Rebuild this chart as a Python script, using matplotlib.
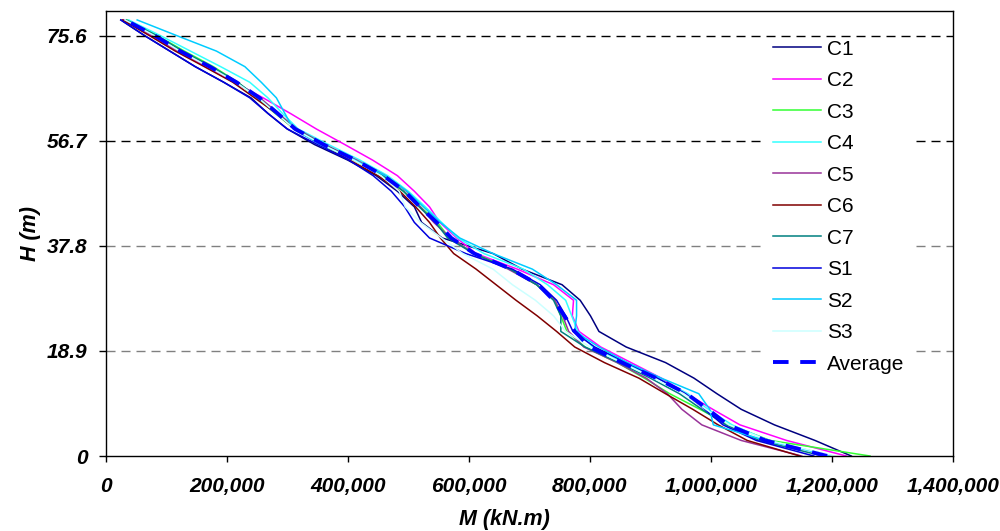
import numpy as np
import matplotlib.pyplot as plt
from matplotlib.ticker import FuncFormatter

plt.rcParams['font.family'] = ['Liberation Sans', 'DejaVu Sans']

# storey levels (m), 28 storeys x 2.8 m
H = [0, 2.8, 5.6, 8.4, 11.2, 14.0, 16.8, 19.6, 22.4, 25.2, 28.0, 30.8, 33.6, 36.4, 39.2,
     42.0, 44.8, 47.6, 50.4, 53.2, 56.0, 58.8, 61.6, 64.4, 67.2, 70.0, 72.8, 75.6, 78.4]

# moments in 1000 kN.m, bottom to top
C1 = [1232, 1172, 1105, 1050, 1010, 972, 925, 860, 815, 801, 784, 754, 688, 640, 556,
      522, 510, 482, 447, 400, 345, 300, 268, 240, 195, 148, 106, 64, 25]
C2 = [1224, 1125, 1048, 1003, 960, 918, 868, 818, 782, 771, 773, 740, 680, 612, 580,
      552, 535, 510, 482, 441, 395, 348, 305, 260, 212, 165, 118, 74, 30]
C3 = [1263, 1098, 1030, 982, 932, 890, 845, 792, 762, 752, 742, 712, 668, 610, 568,
      548, 520, 492, 456, 410, 358, 312, 280, 250, 218, 178, 130, 85, 35]
C4 = [1200, 1095, 1035, 995, 962, 912, 855, 805, 780, 770, 760, 730, 690, 625, 582,
      555, 528, 500, 466, 420, 368, 318, 292, 268, 238, 190, 140, 90, 38]
C5 = [1150, 1050, 985, 952, 928, 893, 845, 790, 765, 755, 742, 712, 665, 608, 570,
      542, 520, 497, 462, 415, 362, 316, 285, 255, 215, 170, 120, 78, 30]
C6 = [1147, 1060, 1012, 970, 925, 881, 824, 775, 745, 713, 678, 645, 612, 575, 553,
      535, 512, 486, 450, 403, 355, 312, 282, 246, 210, 163, 115, 72, 28]
C7 = [1185, 1080, 1025, 985, 948, 900, 848, 792, 752, 752, 740, 712, 668, 608, 565,
      545, 518, 492, 458, 412, 360, 313, 283, 252, 218, 175, 127, 84, 34]
S1 = [1170, 1075, 1020, 990, 958, 912, 860, 808, 772, 760, 745, 718, 672, 595, 535,
      510, 494, 472, 442, 402, 350, 300, 268, 238, 195, 148, 106, 64, 25]
S2 = [1202, 1090, 1004, 998, 980, 918, 862, 815, 775, 778, 778, 745, 705, 640, 585,
      553, 525, 498, 462, 412, 355, 310, 296, 282, 257, 230, 183, 117, 52]
S3 = [1205, 1095, 1030, 992, 955, 905, 852, 800, 760, 740, 710, 672, 640, 590, 555,
      520, 495, 485, 455, 410, 358, 312, 282, 252, 215, 170, 122, 80, 32]
Average = [1192, 1090, 1028, 995, 960, 910, 853, 800, 775, 758, 740, 715, 670, 609, 571,
           547, 519, 494, 459, 413, 360, 313, 284, 254, 216, 172, 123, 81, 32]

names = ['C1', 'C2', 'C3', 'C4', 'C5', 'C6', 'C7', 'S1', 'S2', 'S3']
series = [C1, C2, C3, C4, C5, C6, C7, S1, S2, S3]
colors = ['#000080', '#ff00ff', '#33ff33', '#33ffff', '#993399', '#800000',
          '#008080', '#0000dd', '#00ccff', '#ccffff']

y_ticks = [0, 18.9, 37.8, 56.7, 75.6]
x_ticks = [0, 200000, 400000, 600000, 800000, 1000000, 1200000, 1400000]

fig = plt.figure(figsize=(10, 5.31), dpi=100)
ax = fig.add_axes([0.1057, 0.1412, 0.8473, 0.838])

# grid lines
for yv in y_ticks[1:]:
    gc = 'black' if yv > 50 else '#808080'
    zo = 6 if yv > 70 else 1
    ax.axhline(yv, color=gc, lw=1, linestyle=(0, (6.5, 4.3)), zorder=zo)

for name, vals, c in zip(names, series, colors):
    ax.plot(np.array(vals) * 1000, H, color=c, lw=1.1, label=name, zorder=2)
ax.plot(np.array(Average) * 1000, H, color='#0000ff', lw=2.8,
        linestyle=(0, (4, 3)), label='Average', zorder=3)

ax.set_xlim(0, 1400000)
ax.set_ylim(0, 80)
ax.set_xticks(x_ticks)
ax.set_yticks(y_ticks)
ax.xaxis.set_major_formatter(FuncFormatter(lambda v, p: f'{int(v):,}'))
ax.set_yticklabels(['0', '18.9', '37.8', '56.7', '75.6'])
for lab in ax.get_xticklabels() + ax.get_yticklabels():
    lab.set_fontweight('bold')
    lab.set_fontstyle('italic')
    lab.set_fontsize(15)
ax.tick_params(axis='x', direction='out', length=4, width=1, pad=11)
ax.tick_params(axis='y', direction='out', length=5, width=1, pad=8)
for sp in ax.spines.values():
    sp.set_linewidth(1)
    sp.set_color('black')

ax.set_xlabel('M (kN.m)', fontsize=15.5, fontweight='bold', fontstyle='italic')
ax.set_ylabel('H (m)', fontsize=15.5, fontweight='bold', fontstyle='italic')
ax.xaxis.set_label_coords(0.47, -0.118)
ax.yaxis.set_label_coords(-0.0767, 0.5)

leg = ax.legend(loc='upper left', bbox_to_anchor=(0.7756, 0.959), fontsize=15,
                frameon=True, facecolor='white', edgecolor='none', framealpha=1,
                borderpad=0.5, labelspacing=0.6, handlelength=2.3,
                handletextpad=0.3, borderaxespad=0, fancybox=False)

fig.savefig('out.png', dpi=100)
